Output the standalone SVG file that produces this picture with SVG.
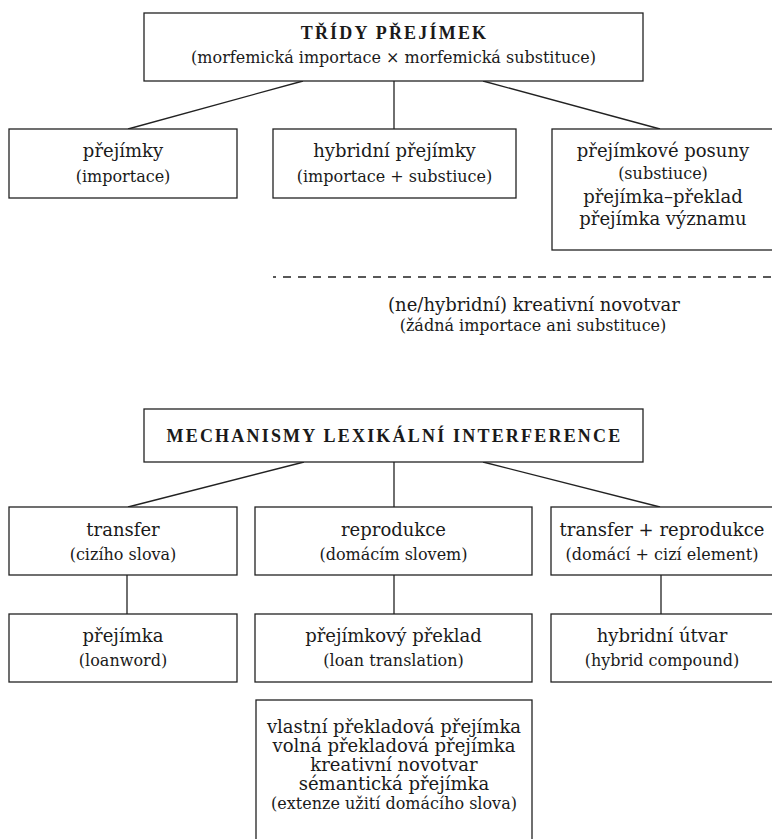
<svg xmlns="http://www.w3.org/2000/svg" width="772" height="839" viewBox="0 0 772 839">
<style>
  .box { fill: #ffffff; stroke: #222222; stroke-width: 1.3; }
  .line { stroke: #222222; stroke-width: 1.3; fill: none; }
  .dash { stroke: #222222; stroke-width: 1.3; stroke-dasharray: 8 7; fill: none; }
  text { font-family: "DejaVu Serif", "Liberation Serif", serif; fill: #1a1a1a; text-anchor: middle; }
  .m { font-size: 18px; }
  .s { font-size: 16px; }
  .h { font-family: "Liberation Serif", "Times New Roman", serif; font-size: 18px; font-weight: bold; letter-spacing: 2.2px; }
</style>
<rect width="772" height="839" fill="#ffffff"/>
<g id="connectors">
  <line class="line" x1="303" y1="81" x2="128" y2="129"/>
  <line class="line" x1="394" y1="81" x2="394" y2="129"/>
  <line class="line" x1="483" y1="81" x2="660" y2="129"/>
  <line class="line" x1="304" y1="462" x2="128" y2="507"/>
  <line class="line" x1="394" y1="462" x2="394" y2="507"/>
  <line class="line" x1="483" y1="462" x2="660" y2="507"/>
  <line class="line" x1="127" y1="575" x2="127" y2="614"/>
  <line class="line" x1="394" y1="575" x2="394" y2="614"/>
  <line class="line" x1="661" y1="575" x2="661" y2="614"/>
</g>
<g id="tridy">
  <rect class="box" x="144" y="13" width="499" height="68"/>
  <text class="h" x="394.5" y="39">TŘÍDY PŘEJÍMEK</text>
  <text class="s" x="393.5" y="63">(morfemická importace × morfemická substituce)</text>
</g>
<g id="prejimky">
  <rect class="box" x="9" y="129" width="228" height="69"/>
  <text class="m" x="123" y="157">přejímky</text>
  <text class="s" x="123" y="182">(importace)</text>
</g>
<g id="hybridni-prejimky">
  <rect class="box" x="273" y="129" width="243" height="69"/>
  <text class="m" x="394.5" y="157">hybridní přejímky</text>
  <text class="s" x="394.5" y="182">(importace + substiuce)</text>
</g>
<g id="posuny">
  <rect class="box" x="552" y="129" width="222" height="121"/>
  <text class="m" x="663" y="157">přejímkové posuny</text>
  <text class="s" x="663" y="179">(substiuce)</text>
  <text class="m" x="663" y="203">přejímka–překlad</text>
  <text class="m" x="663" y="225">přejímka významu</text>
</g>
<g id="separator">
  <line class="dash" x1="273" y1="277" x2="772" y2="277" stroke-dashoffset="5"/>
</g>
<g id="novotvar">
  <text class="m" x="534" y="311">(ne/hybridní) kreativní novotvar</text>
  <text class="s" x="533" y="331">(žádná importace ani substituce)</text>
</g>
<g id="mechanismy">
  <rect class="box" x="144" y="409" width="499" height="53"/>
  <text class="h" x="394.5" y="442">MECHANISMY LEXIKÁLNÍ INTERFERENCE</text>
</g>
<g id="transfer">
  <rect class="box" x="9" y="507" width="228" height="68"/>
  <text class="m" x="123" y="536">transfer</text>
  <text class="s" x="123" y="560">(cizího slova)</text>
</g>
<g id="reprodukce">
  <rect class="box" x="255" y="507" width="277" height="68"/>
  <text class="m" x="393.5" y="536">reprodukce</text>
  <text class="s" x="393.5" y="560">(domácím slovem)</text>
</g>
<g id="transfer-reprodukce">
  <rect class="box" x="551" y="507" width="223" height="68"/>
  <text class="m" x="662" y="536">transfer + reprodukce</text>
  <text class="s" x="662" y="560">(domácí + cizí element)</text>
</g>
<g id="prejimka">
  <rect class="box" x="9" y="614" width="228" height="68"/>
  <text class="m" x="123" y="642">přejímka</text>
  <text class="s" x="123" y="666">(loanword)</text>
</g>
<g id="prejimkovy-preklad">
  <rect class="box" x="255" y="614" width="277" height="68"/>
  <text class="m" x="393.5" y="642">přejímkový překlad</text>
  <text class="s" x="393.5" y="666">(loan translation)</text>
</g>
<g id="hybridni-utvar">
  <rect class="box" x="551" y="614" width="223" height="68"/>
  <text class="m" x="662" y="642">hybridní útvar</text>
  <text class="s" x="662" y="666">(hybrid compound)</text>
</g>
<g id="typy">
  <rect class="box" x="256" y="700" width="276" height="150"/>
  <text class="m" x="394" y="733">vlastní překladová přejímka</text>
  <text class="m" x="394" y="752">volná překladová přejímka</text>
  <text class="m" x="394" y="771">kreativní novotvar</text>
  <text class="m" x="394" y="790">sémantická přejímka</text>
  <text class="s" x="394" y="809">(extenze užití domácího slova)</text>
</g>
</svg>
